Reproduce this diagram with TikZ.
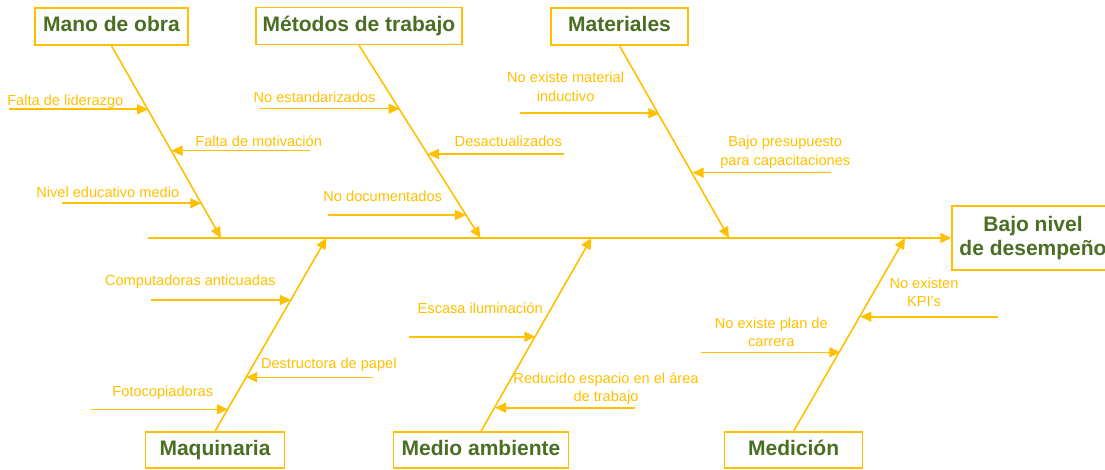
\documentclass[tikz,border=0pt]{standalone}
\usepackage{fontspec}
\setmainfont{Liberation Sans}
\usetikzlibrary{arrows.meta}
\definecolor{ycol}{HTML}{FFC000}
\definecolor{gcol}{HTML}{4A6E22}
\begin{document}
\begin{tikzpicture}[x=1pt,y=-1pt,
  arr/.style={draw=ycol, line width=1.6pt, -{Triangle[length=11pt,width=10pt]}},
  cat/.style={draw=ycol, line width=1.5pt, fill=white, text=gcol,
    font=\fontsize{21}{24}\selectfont\bfseries, inner sep=0pt, align=center},
  onecat/.style={cat, text height=15pt, text depth=4pt},
  lbl/.style={text=ycol, font=\fontsize{14.6}{18.4}\selectfont, inner sep=0pt, align=center}]
\useasboundingbox (0,0) rectangle (1105,470);

% category boxes
\node[onecat, minimum width=153pt, minimum height=37pt] (mano) at (111.5,26.5) {Mano de obra};
\node[onecat, minimum width=206pt, minimum height=37pt] (met) at (359,26) {Métodos de trabajo};
\node[onecat, minimum width=137pt, minimum height=37pt] (mat) at (619.5,26.5) {Materiales};
\node[cat, minimum width=162pt, minimum height=64pt] (efecto) at (1033,238) {Bajo nivel\\de desempeño};
\node[onecat, minimum width=139pt, minimum height=36pt] (maq) at (215,450) {Maquinaria};
\node[onecat, minimum width=175pt, minimum height=36pt] (med) at (481,450) {Medio ambiente};
\node[onecat, minimum width=138pt, minimum height=36pt] (mdc) at (793.6,450) {Medición};

% spine
\coordinate (tail) at (148,238);
\draw[arr] (tail) -- (efecto.west);

% bones
\coordinate (manoE) at (221,238);
\coordinate (metE) at (480.5,238);
\coordinate (matE) at (729,238);
\coordinate (maqE) at (326.5,238);
\coordinate (medE) at (591.4,238);
\coordinate (mdcE) at (905,238);
\draw[arr] (mano.south) -- (manoE);
\draw[arr] (met.south) -- (metE);
\draw[arr] (mat.south) -- (matE);
\draw[arr] (maq.north) -- (maqE);
\draw[arr] (med.north) -- (medE);
\draw[arr] (mdc.north) -- (mdcE);

% sub-causes: Mano de obra
\coordinate (a1s) at (8.8,109.3);   \coordinate (a1e) at (148.0,109.3);
\coordinate (a2s) at (310,150.7);   \coordinate (a2e) at (171.5,150.7);
\coordinate (a3s) at (62.4,203.3);  \coordinate (a3e) at (201.3,203.3);
\draw[arr] (a1s) -- (a1e);
\draw[arr] (a2s) -- (a2e);
\draw[arr] (a3s) -- (a3e);
\node[lbl, anchor=base] (t1) at (65.3,106) {Falta de liderazgo};
\node[lbl, anchor=base] (t2) at (258.7,146.7) {Falta de motivación};
\node[lbl, anchor=base] (t3) at (107.8,198) {Nivel educativo medio};

% Métodos de trabajo
\coordinate (b1s) at (260,108.7);   \coordinate (b1e) at (399.5,108.7);
\coordinate (b2s) at (563.7,154);   \coordinate (b2e) at (427.9,154);
\coordinate (b3s) at (328,215);     \coordinate (b3e) at (466.1,215);
\draw[arr] (b1s) -- (b1e);
\draw[arr] (b2s) -- (b2e);
\draw[arr] (b3s) -- (b3e);
\node[lbl, anchor=base] (u1) at (314.5,103) {No estandarizados};
\node[lbl, anchor=base] (u2) at (508.3,146.7) {Desactualizados};
\node[lbl, anchor=base] (u3) at (382.7,201.7) {No documentados};

% Materiales
\coordinate (c1s) at (520,113.3);   \coordinate (c1e) at (659.4,113.3);
\coordinate (c2s) at (831,172.7);   \coordinate (c2e) at (692.6,172.7);
\draw[arr] (c1s) -- (c1e);
\draw[arr] (c2s) -- (c2e);
\node[lbl] (v1) at (565.6,88.15) {No existe material\strut\\inductivo\strut};
\node[lbl] (v2) at (785.3,152.15) {Bajo presupuesto\strut\\para capacitaciones\strut};

% Maquinaria
\coordinate (d1s) at (150.8,300);   \coordinate (d1e) at (290.8,300);
\coordinate (d2s) at (372.5,377.3); \coordinate (d2e) at (246.2,377.3);
\coordinate (d3s) at (90.5,409.3);  \coordinate (d3e) at (227.8,409.3);
\draw[arr] (d1s) -- (d1e);
\draw[arr] (d2s) -- (d2e);
\draw[arr] (d3s) -- (d3e);
\node[lbl, anchor=base] (w1) at (190.3,285) {Computadoras anticuadas};
\node[lbl, anchor=base] (w2) at (328.8,368.3) {Destructora de papel};
\node[lbl, anchor=base] (w3) at (162.8,396.7) {Fotocopiadoras};

% Medio ambiente
\coordinate (e1s) at (408.6,336.7); \coordinate (e1e) at (535.3,336.7);
\coordinate (e2s) at (635,407.7);   \coordinate (e2e) at (495.0,407.7);
\draw[arr] (e1s) -- (e1e);
\draw[arr] (e2s) -- (e2e);
\node[lbl, anchor=base] (x1) at (480.2,313.3) {Escasa iluminación};
\node[lbl] (x2) at (606,388.8) {Reducido espacio en el área\strut\\de trabajo\strut};

% Medición
\coordinate (f1s) at (700.6,352.3); \coordinate (f1e) at (840.3,352.3);
\coordinate (f2s) at (998,316.7);   \coordinate (f2e) at (860.4,316.7);
\draw[arr] (f1s) -- (f1e);
\draw[arr] (f2s) -- (f2e);
\node[lbl] (y1) at (771.3,333.8) {No existe plan de\strut\\carrera\strut};
\node[lbl] (y2) at (924,293.8) {No existen\strut\\KPI’s\strut};
\end{tikzpicture}
\end{document}
